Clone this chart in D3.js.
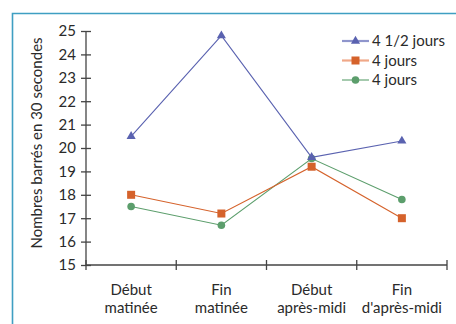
<!DOCTYPE html>
<html><head><meta charset="utf-8">
<script src="https://cdn.jsdelivr.net/npm/d3@7"></script>
<style>
html,body{margin:0;padding:0;background:#fff;}
svg{display:block;font-family:Lato,"Open Sans",sans-serif;}
</style></head>
<body>
<svg id="c" width="456" height="324"></svg>
<script>
const categories = [["Début","matinée"],["Fin","matinée"],["Début","après-midi"],["Fin","d'après-midi"]];
const seriesNames = ["4 1/2 jours","4 jours","4 jours"];
const serieA = [20.5, 24.8, 19.6, 20.3];
const serieB = [18.0, 17.2, 19.2, 17.0];
const serieC = [17.5, 16.7, 19.55, 17.8];
const yTicks = [15,16,17,18,19,20,21,22,23,24,25];
const yTitle = "Nombres barrés en 30 secondes";

const colors = ["#5a62b0","#d5622b","#5c9e6c"];
const legendLineColors = ["#8f95cc","#f0a888","#5c9e6c"];
const shapes = ["triangle","square","circle"];
const series = [serieA, serieB, serieC].map((v,i)=>({name:seriesNames[i], values:v, color:colors[i], shape:shapes[i]}));

const svg = d3.select("#c");
const FF = "Lato,'Open Sans',sans-serif";
// frame
svg.append("path").attr("d","M12.5,324 L12.5,13.5 L456,13.5").attr("fill","none").attr("stroke","#3f9fc2").attr("stroke-width",1.6);

const x0 = 86, x1 = 447, yTop = 31, yBot = 265;
const x = d3.scaleBand().domain(d3.range(categories.length)).range([x0,x1]).padding(0);
const y = d3.scaleLinear().domain([15,25]).range([yBot,yTop]);
const axisColor = "#444";
const fontSize = 15;
const textColor = "#2a2a2a";

// y axis
const yAxis = svg.append("g").attr("transform",`translate(${x0},0)`)
  .call(d3.axisLeft(y).tickValues(yTicks).tickSize(5).tickPadding(5).tickFormat(d3.format("d")));
yAxis.select(".domain").attr("stroke",axisColor).attr("stroke-width",1.3).attr("d",`M0,${yTop}V${yBot}`);
yAxis.selectAll(".tick line").attr("stroke",axisColor).attr("stroke-width",1.3).attr("x1",5).attr("x2",-5);
yAxis.selectAll(".tick text").attr("font-size",fontSize).attr("fill",textColor).attr("x",-10)
  .attr("font-family",FF);

// x axis
const xAxis = svg.append("g").attr("transform",`translate(0,${yBot})`);
xAxis.append("line").attr("x1",x0).attr("x2",x1).attr("stroke",axisColor).attr("stroke-width",1.3);
const edges = d3.range(categories.length+1).map(i=> i<categories.length ? x(i) : x(i-1)+x.bandwidth());
xAxis.selectAll("line.t").data(edges).join("line").attr("class","t")
  .attr("x1",d=>d).attr("x2",d=>d).attr("y1",-5).attr("y2",5).attr("stroke",axisColor).attr("stroke-width",1.3);
const xl = svg.append("g").selectAll("text").data(categories).join("text")
  .attr("x",(d,i)=>x(i)+x.bandwidth()/2).attr("y",295)
  .attr("text-anchor","middle").attr("font-size",fontSize).attr("fill",textColor);
xl.each(function(d){
  const t = d3.select(this);
  d.forEach((s,j)=> t.append("tspan").attr("x",t.attr("x")).attr("dy",j?18:0).text(s));
});

// y title
svg.append("text").attr("transform",`translate(42,${(yTop+yBot)/2 - 5}) rotate(-90)`)
  .attr("text-anchor","middle").attr("font-size",fontSize).attr("fill",textColor).text(yTitle);

function marker(g, shape, color, cx, cy){
  if(shape==="triangle"){
    g.append("path").attr("d",d3.symbol(d3.symbolTriangle,36)()).attr("transform",`translate(${cx},${cy})`).attr("fill",color);
  } else if(shape==="square"){
    g.append("rect").attr("x",cx-4).attr("y",cy-4).attr("width",8).attr("height",8).attr("fill",color);
  } else {
    g.append("circle").attr("cx",cx).attr("cy",cy).attr("r",3.8).attr("fill",color);
  }
}

const line = d3.line().x((d,i)=>x(i)+x.bandwidth()/2).y(d=>y(d));
series.slice().reverse().forEach(s=>{
  const g = svg.append("g");
  g.append("path").attr("d",line(s.values)).attr("fill","none").attr("stroke",s.color).attr("stroke-width",1.1);
  s.values.forEach((v,i)=>marker(g,s.shape,s.color,x(i)+x.bandwidth()/2,y(v)));
});

// legend
const lg = svg.append("g");
series.forEach((s,i)=>{
  const yy = 41 + i*19.5;
  lg.append("line").attr("x1",342).attr("x2",369).attr("y1",yy).attr("y2",yy)
    .attr("stroke",legendLineColors[i]).attr("stroke-width", i<2?2.2:1.1);
  marker(lg, s.shape, s.color, 355.5, yy);
  lg.append("text").attr("x",372).attr("y",yy+5).attr("font-size",fontSize).attr("fill",textColor).text(s.name);
});
</script>
</body></html>
